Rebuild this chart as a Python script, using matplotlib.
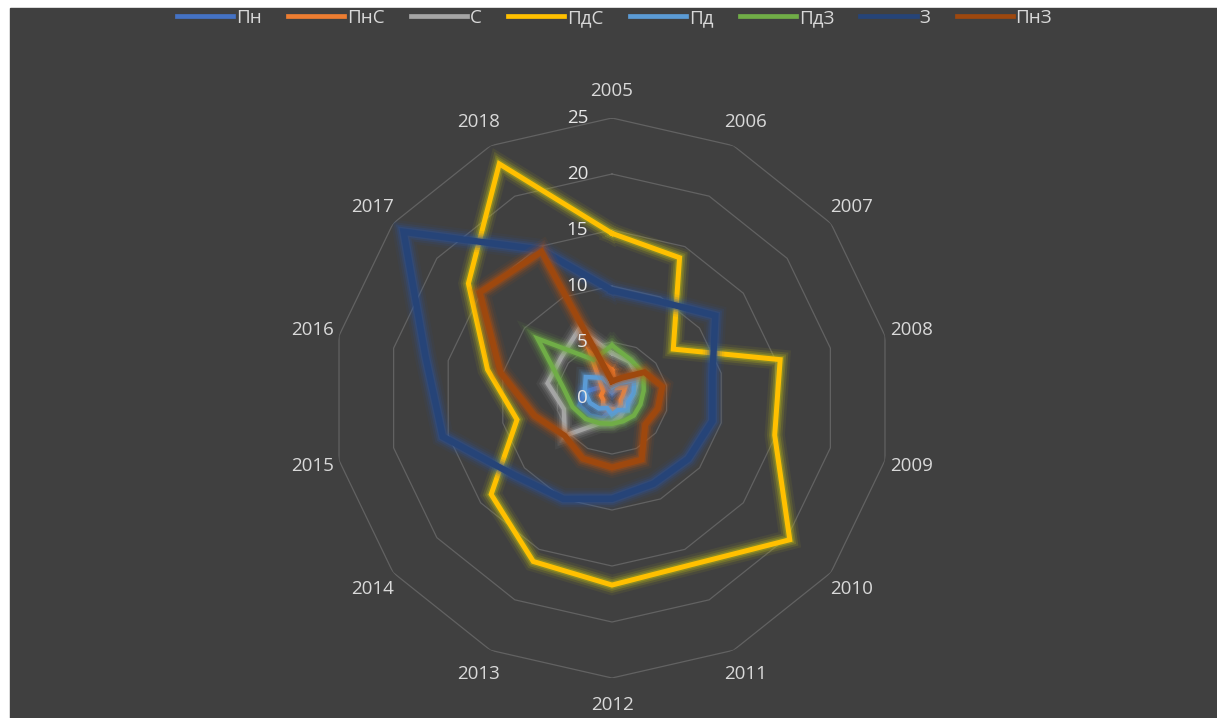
import numpy as np
import matplotlib.pyplot as plt
import matplotlib.patheffects as pe
from matplotlib.patches import Rectangle
from matplotlib.transforms import offset_copy

plt.rcParams['font.family'] = ['Open Sans', 'DejaVu Sans']

# Data
years = ['2005', '2006', '2007', '2008', '2009', '2010', '2011',
         '2012', '2013', '2014', '2015', '2016', '2017', '2018']
series_names = ['Пн', 'ПнС', 'С', 'ПдС', 'Пд', 'ПдЗ', 'З', 'ПнЗ']
colors = ['#4472C4', '#ED7D31', '#A5A5A5', '#FFC000',
          '#5B9BD5', '#70AD47', '#264478', '#9E480E']
glow_colors = ['#4472C4', '#ED7D31', '#A5A5A5', '#C8C414',
               '#5B9BD5', '#70AD47', '#2B55A0', '#B8520F']

pn   = [0.5, 1.0, 1.5, 1.0, 1.5, 1.0, 1.5, 1.0, 2.0, 2.5, 3.0, 2.5, 1.5, 1.0]
pn_s = [2.5, 1.0, 1.5, 1.0, 0.8, 1.0, 1.2, 1.0, 1.0, 1.0, 0.8, 1.0, 1.0, 4.5]
s    = [4.0, 3.6, 3.0, 2.0, 1.5, 1.5, 1.8, 2.2, 2.5, 5.4, 4.4, 5.9, 5.8, 6.8]
pd_s = [14.7, 13.9, 7.0, 15.4, 14.9, 20.3, 16.5, 16.7, 16.2, 13.8, 8.7, 11.4, 16.4, 23.2]
pd_  = [1.0, 1.5, 2.5, 2.0, 1.5, 1.8, 1.2, 1.5, 1.0, 1.5, 2.0, 2.5, 3.0, 2.0]
pd_z = [4.7, 3.8, 3.6, 2.9, 2.6, 2.5, 2.3, 2.3, 2.5, 3.0, 3.6, 4.5, 8.5, 3.8]
z    = [9.6, 9.6, 11.8, 9.2, 9.2, 8.7, 8.5, 9.0, 10.0, 11.1, 15.5, 17.1, 23.8, 14.7]
pn_z = [1.5, 2.0, 3.7, 4.6, 4.2, 3.8, 6.1, 6.2, 6.0, 5.4, 7.1, 10.2, 15.1, 14.5]

all_series = [pn, pn_s, s, pd_s, pd_, pd_z, z, pn_z]
line_widths = [3.2, 3.2, 3.2, 3.6, 3.2, 3.2, 4.6, 4.2]
rings = [5, 10, 15, 20, 25]
tick_vals = [0, 5, 10, 15, 20, 25]

bg = '#404040'
txt = '#D9D9D9'
W, H = 1217, 718

fig = plt.figure(figsize=(W / 100, H / 100), dpi=100, facecolor='white')
fig.patches.append(Rectangle((10 / W, 0), 1 - 10 / W, 1 - 8 / H,
                             transform=fig.transFigure, color=bg, zorder=-10))

cx, cy, R = 612, H - 398, 280
ax = fig.add_axes([(cx - R) / W, (cy - R) / H, 2 * R / W, 2 * R / H],
                  projection='polar')
ax.set_theta_offset(np.pi / 2)
ax.set_theta_direction(-1)
ax.set_ylim(0, 25)
ax.axis('off')

n = len(years)
theta = np.linspace(0, 2 * np.pi, n, endpoint=False)
theta_c = np.append(theta, theta[0])

# polygon gridlines
for r in rings:
    ax.plot(theta_c, [r] * (n + 1), color='#626262', lw=0.9, zorder=1)

# series with glow
for name, vals, c, g, lw in zip(series_names, all_series, colors,
                                glow_colors, line_widths):
    v = np.append(vals, vals[0])
    ax.plot(theta_c, v, color=c, lw=lw, label=name, zorder=3,
            solid_joinstyle='miter',
            path_effects=[pe.Stroke(linewidth=lw + 11, foreground=g, alpha=0.08),
                          pe.Stroke(linewidth=lw + 7.5, foreground=g, alpha=0.14),
                          pe.Stroke(linewidth=lw + 4.5, foreground=g, alpha=0.22),
                          pe.Stroke(linewidth=lw + 2, foreground=g, alpha=0.3),
                          pe.Normal()])

# category labels
for t, y in zip(theta, years):
    ax.text(t, 27.4, y, ha='center', va='center', fontsize=13.5,
            color=txt, clip_on=False)

# radial tick labels
tr = offset_copy(ax.transData, fig=fig, x=-24, y=0, units='dots')
for v in tick_vals:
    ax.text(0, v, str(v), transform=tr, ha='right', va='center',
            fontsize=13.5, color='#E6E6E6', zorder=5)

handles, labels = ax.get_legend_handles_labels()
leg = fig.legend(handles, labels, loc='center', ncol=8,
                 bbox_to_anchor=(0.505, 1 - 18 / H), frameon=False,
                 fontsize=13.5, handlelength=3.0, handletextpad=0.15,
                 columnspacing=1.4, labelcolor=txt)
for h in leg.legend_handles:
    h.set_path_effects([])
    h.set_linewidth(3.4)

fig.savefig('out.png', dpi=100, facecolor=fig.get_facecolor())
